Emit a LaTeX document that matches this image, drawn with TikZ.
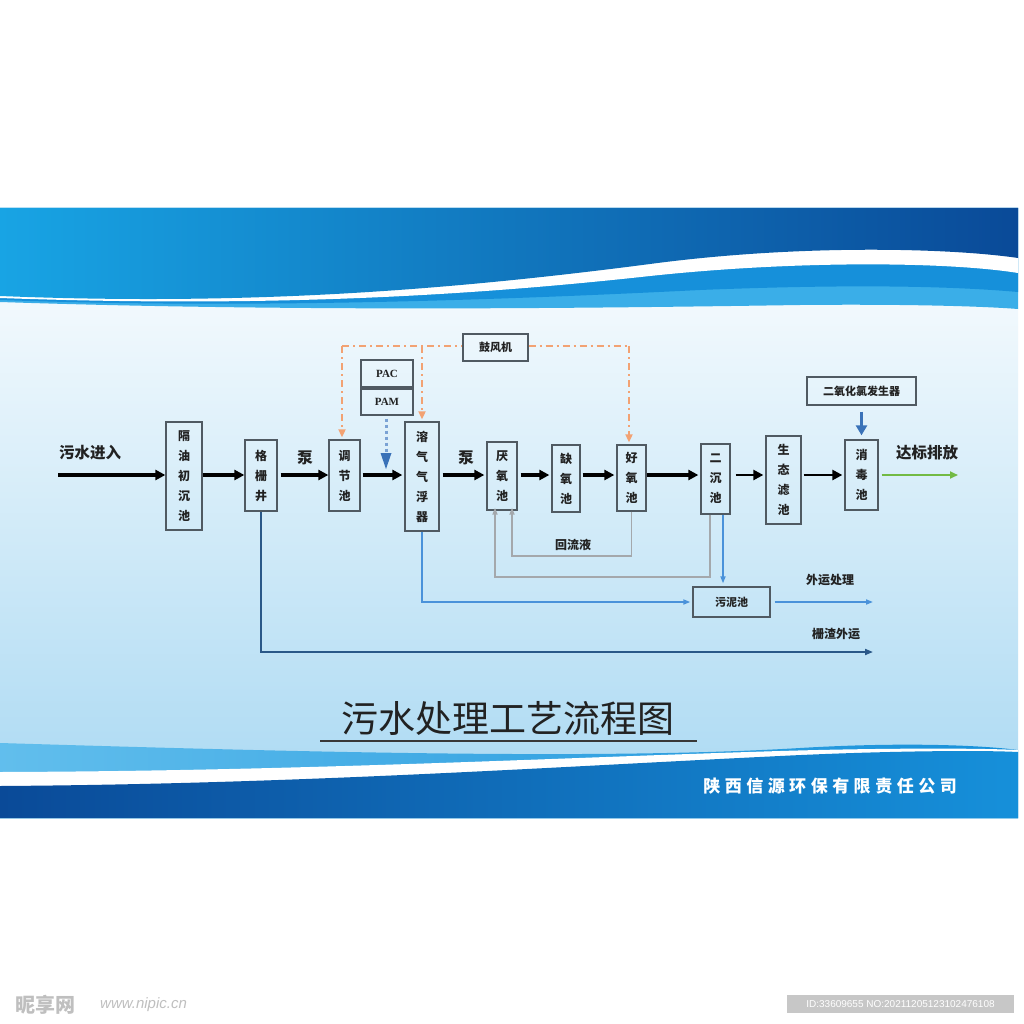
\documentclass[tikz,border=0pt]{standalone}
\usepackage{fontspec}
\setmainfont{Liberation Serif}
\newfontfamily\cjk{Noto Sans CJK SC}
\newfontfamily\lsans{Liberation Sans}
\usetikzlibrary{arrows.meta,calc}
\definecolor{bgbot}{HTML}{A8D8F2}
\definecolor{bandL}{HTML}{18A4E4}
\definecolor{bandR}{HTML}{0A4A98}
\definecolor{lblue}{HTML}{3AAEE8}
\definecolor{mblue}{HTML}{1690DA}
\definecolor{boxline}{HTML}{505A62}
\definecolor{oline}{HTML}{F2A273}
\definecolor{pamblue}{HTML}{7AA2D4}
\definecolor{pamtip}{HTML}{3A72B8}
\definecolor{retgray}{HTML}{A4A8AC}
\definecolor{sludge}{HTML}{4A92DA}
\definecolor{dkline}{HTML}{2A5888}
\definecolor{grn}{HTML}{72BA44}
\definecolor{txt}{HTML}{222222}
\begin{document}
\begin{tikzpicture}[x=1pt,y=-1pt,
  vbox/.style={draw=boxline, line width=1.3pt, inner sep=0pt, align=center,
    text=txt, font=\cjk\bfseries\fontsize{12}{20}\selectfont},
  hbox/.style={draw=boxline, line width=1.3pt, inner sep=0pt, align=center,
    text=txt, font=\cjk\bfseries\fontsize{11}{13}\selectfont},
  lbl/.style={text=txt, font=\cjk\bfseries\fontsize{15.5}{17}\selectfont, inner sep=0pt},
  mainarr/.style={line width=3.2pt, -{Triangle[length=10pt,width=10pt]}},
  odash/.style={draw=oline, line width=1.8pt, dash pattern=on 7pt off 4pt on 2pt off 4pt},
  otip/.style={-{Triangle[length=8pt,width=7pt,fill=oline,color=oline]}},
  retline/.style={draw=retgray, line width=1.6pt, -{Triangle[length=7pt,width=5pt]}},
  sline/.style={draw=sludge, line width=1.6pt, -{Triangle[length=7pt,width=5pt]}},
]
\useasboundingbox (0,0) rectangle (1024,1024);
\fill[white] (0,0) rectangle (1024,1024);
% card background
\shade[top color=white, bottom color=bgbot] (0,208) rectangle (1018,818);
% top banner
\fill[lblue] (0,208) -- (1018,208) -- (1018,309) .. controls (980,306) and (900,304) .. (800,305)
  .. controls (600,308) and (300,312) .. (0,302) -- cycle;
\fill[mblue] (0,208) -- (1018,208) -- (1018,292) .. controls (950,286) and (850,284) .. (700,290)
  .. controls (500,300) and (250,309) .. (0,300) -- cycle;
\fill[white] (0,208) -- (1018,208) -- (1018,273) .. controls (950,262) and (800,260) .. (650,276)
  .. controls (450,298) and (250,307) .. (0,298) -- cycle;
\shade[left color=bandL, right color=bandR] (0,208) -- (1018,208) -- (1018,258)
  .. controls (950,248) and (800,244) .. (650,264) .. controls (450,290) and (250,306) .. (0,296) -- cycle;
% bottom banner
\shade[left color=lblue!80, right color=mblue] (0,743) .. controls (300,752) and (600,760) .. (800,748)
  .. controls (900,742) and (980,745) .. (1018,750) -- (1018,818) -- (0,818) -- cycle;
\fill[white] (0,772) .. controls (300,771) and (550,758) .. (780,751)
  .. controls (880,748) and (980,748) .. (1018,750) -- (1018,818) -- (0,818) -- cycle;
\shade[left color=bandR, right color=mblue] (0,786) .. controls (300,784) and (550,767) .. (780,756)
  .. controls (880,751) and (980,750) .. (1018,752) -- (1018,818) -- (0,818) -- cycle;

% main nodes
\node[vbox, minimum width=36, minimum height=108] (gy) at (184,476) {隔\\油\\初\\沉\\池};
\node[vbox, minimum width=32, minimum height=71] (gs) at (261,475.5) {格\\栅\\井};
\node[vbox, minimum width=31, minimum height=71] (tj) at (344.5,475.5) {调\\节\\池};
\node[vbox, minimum width=34, minimum height=109] (rq) at (422,476.5) {溶\\气\\气\\浮\\器};
\node[vbox, minimum width=30, minimum height=68] (yy) at (502,476) {厌\\氧\\池};
\node[vbox, minimum width=28, minimum height=67] (qy) at (566,478.5) {缺\\氧\\池};
\node[vbox, minimum width=29, minimum height=66] (hy) at (631.5,478) {好\\氧\\池};
\node[vbox, minimum width=29, minimum height=70] (ec) at (715.5,479) {二\\沉\\池};
\node[vbox, minimum width=35, minimum height=88] (st) at (783.5,480) {生\\态\\滤\\池};
\node[vbox, minimum width=33, minimum height=70] (xd) at (861.5,475) {消\\毒\\池};
\node[hbox, minimum width=109, minimum height=28] (zz) at (861.5,391) {二氧化氯发生器};
\node[hbox, minimum width=65, minimum height=27] (gf) at (495.5,347.5) {鼓风机};
\node[hbox, minimum width=52, minimum height=27, font=\bfseries\fontsize{11}{13}\selectfont] (pac) at (387,373.5) {PAC};
\node[hbox, minimum width=52, minimum height=26, font=\bfseries\fontsize{11}{13}\selectfont] (pam) at (387,402) {PAM};
\node[hbox, minimum width=77, minimum height=30] (wn) at (731.5,602) {污泥池};

% labels
\node[lbl] (l1) at (90,453) {污水进入};
\node[lbl] (l2) at (305,458) {泵};
\node[lbl] (l3) at (466,458) {泵};
\node[lbl] (l4) at (927,453) {达标排放};
\node[lbl, font=\cjk\bfseries\fontsize{12}{14}\selectfont] (l5) at (573,545) {回流液};
\node[lbl, font=\cjk\bfseries\fontsize{12}{14}\selectfont] (l6) at (830,580) {外运处理};
\node[lbl, font=\cjk\bfseries\fontsize{12}{14}\selectfont] (l7) at (836,634) {栅渣外运};

% main flow
\coordinate (m) at (0,475);
\coordinate (in) at (58,475);
\coordinate (out) at (958,475);
\draw[mainarr] (in) -- (gy.west |- m);
\draw[mainarr] (gy.east |- m) -- (gs.west |- m);
\draw[mainarr] ([xshift=3pt]gs.east |- m) -- (tj.west |- m);
\draw[mainarr] ([xshift=2pt]tj.east |- m) -- ([xshift=-2pt]rq.west |- m);
\draw[mainarr] ([xshift=3pt]rq.east |- m) -- ([xshift=-2pt]yy.west |- m);
\draw[mainarr] ([xshift=3pt]yy.east |- m) -- ([xshift=-2pt]qy.west |- m);
\draw[mainarr] ([xshift=2pt]qy.east |- m) -- ([xshift=-2pt]hy.west |- m);
\draw[mainarr] (hy.east |- m) -- ([xshift=-2pt]ec.west |- m);
\draw[mainarr, line width=2.4pt] ([xshift=5pt]ec.east |- m) -- ([xshift=-2pt]st.west |- m);
\draw[mainarr, line width=2.4pt] ([xshift=2pt]st.east |- m) -- ([xshift=-2pt]xd.west |- m);
\draw[draw=grn, line width=2.2pt, -{Triangle[length=8pt,width=7pt]}, color=grn] ([xshift=3pt]xd.east |- m) -- (out);

% blower lines
\coordinate (o1) at (342,346);
\coordinate (o2) at (422,346);
\coordinate (o3) at (629,346);
\draw[odash] (o1) -- (gf.west |- o1);
\draw[odash] (gf.east |- o3) -- (o3);
\draw[odash, otip] (o1) -- ([yshift=2pt]o1 |- tj.north);
\draw[odash, otip] (o2) -- ([yshift=2pt]o2 |- rq.north);
\draw[odash, otip] (o3) -- ([yshift=2pt]o3 |- hy.north);

% PAM dosing
\coordinate (pd) at (386,469);
\draw[draw=pamblue, line width=3pt, dash pattern=on 3pt off 3pt] ([yshift=-3pt]pam.south -| pd) -- ([yshift=15pt]pd);
\fill[pamtip] ([yshift=16pt]pd) ++(-5.5,0) -- ++(11,0) -- (pd) -- cycle;

% chlorine dioxide
\draw[draw=pamtip, line width=2.8pt, -{Triangle[length=10pt,width=11pt]}] ([yshift=-6pt]zz.south) -- ([yshift=4pt]xd.north);

% screenings
\coordinate (zend) at (873,652);
\draw[draw=dkline, line width=1.8pt, -{Triangle[length=8pt,width=6pt]}] (gs.south) |- (zend);
% flotation sludge
\draw[sline] (rq.south) |- ([xshift=-2pt]wn.west);
% secondary sludge
\draw[sline] ([xshift=7.5pt]ec.south) -- ([xshift=7.5pt,yshift=3pt]ec.south |- wn.north);
\coordinate (wend) at (873,602);
\draw[sline] ([xshift=4pt]wn.east) -- (wend);

% return liquor
\coordinate (r1) at (512,556);
\coordinate (r2) at (495,577);
\draw[retline] (hy.south) |- (r1) -- ([yshift=3pt]r1 |- yy.south);
\draw[retline] ([xshift=-5.5pt]ec.south) |- (r2) -- ([yshift=3pt]r2 |- yy.south);

% title
\node[text=txt, font=\cjk\fontsize{37}{40}\selectfont, inner sep=0pt] (title) at (508,718) {污水处理工艺流程图};
\coordinate (u1) at (320,741);
\coordinate (u2) at (697,741);
\draw[draw=txt!90, line width=2.6pt] (u1) -- (u2);

% company
\node[text=white, font=\cjk\bfseries\fontsize{17}{19}\selectfont, inner sep=0pt] (co) at (830,786)
  {陕\hspace{4.5pt}西\hspace{4.5pt}信\hspace{4.5pt}源\hspace{4.5pt}环\hspace{4.5pt}保\hspace{4.5pt}有\hspace{4.5pt}限\hspace{4.5pt}责\hspace{4.5pt}任\hspace{4.5pt}公\hspace{4.5pt}司};

% watermarks
\node[text=black!25, font=\cjk\bfseries\fontsize{20}{22}\selectfont, inner sep=0pt, anchor=west] (wm1) at (15,1005) {昵享网};
\node[text=black!25, font=\lsans\itshape\fontsize{15}{17}\selectfont, inner sep=0pt, anchor=west] (wm2) at (100,1005) {www.nipic.cn};
\node[fill=black!22, minimum width=227, minimum height=18, inner sep=0pt, text=white,
  font=\lsans\fontsize{10}{12}\selectfont] (wm3) at (900.5,1004) {ID:33609655 NO:20211205123102476108};
\end{tikzpicture}
\end{document}
